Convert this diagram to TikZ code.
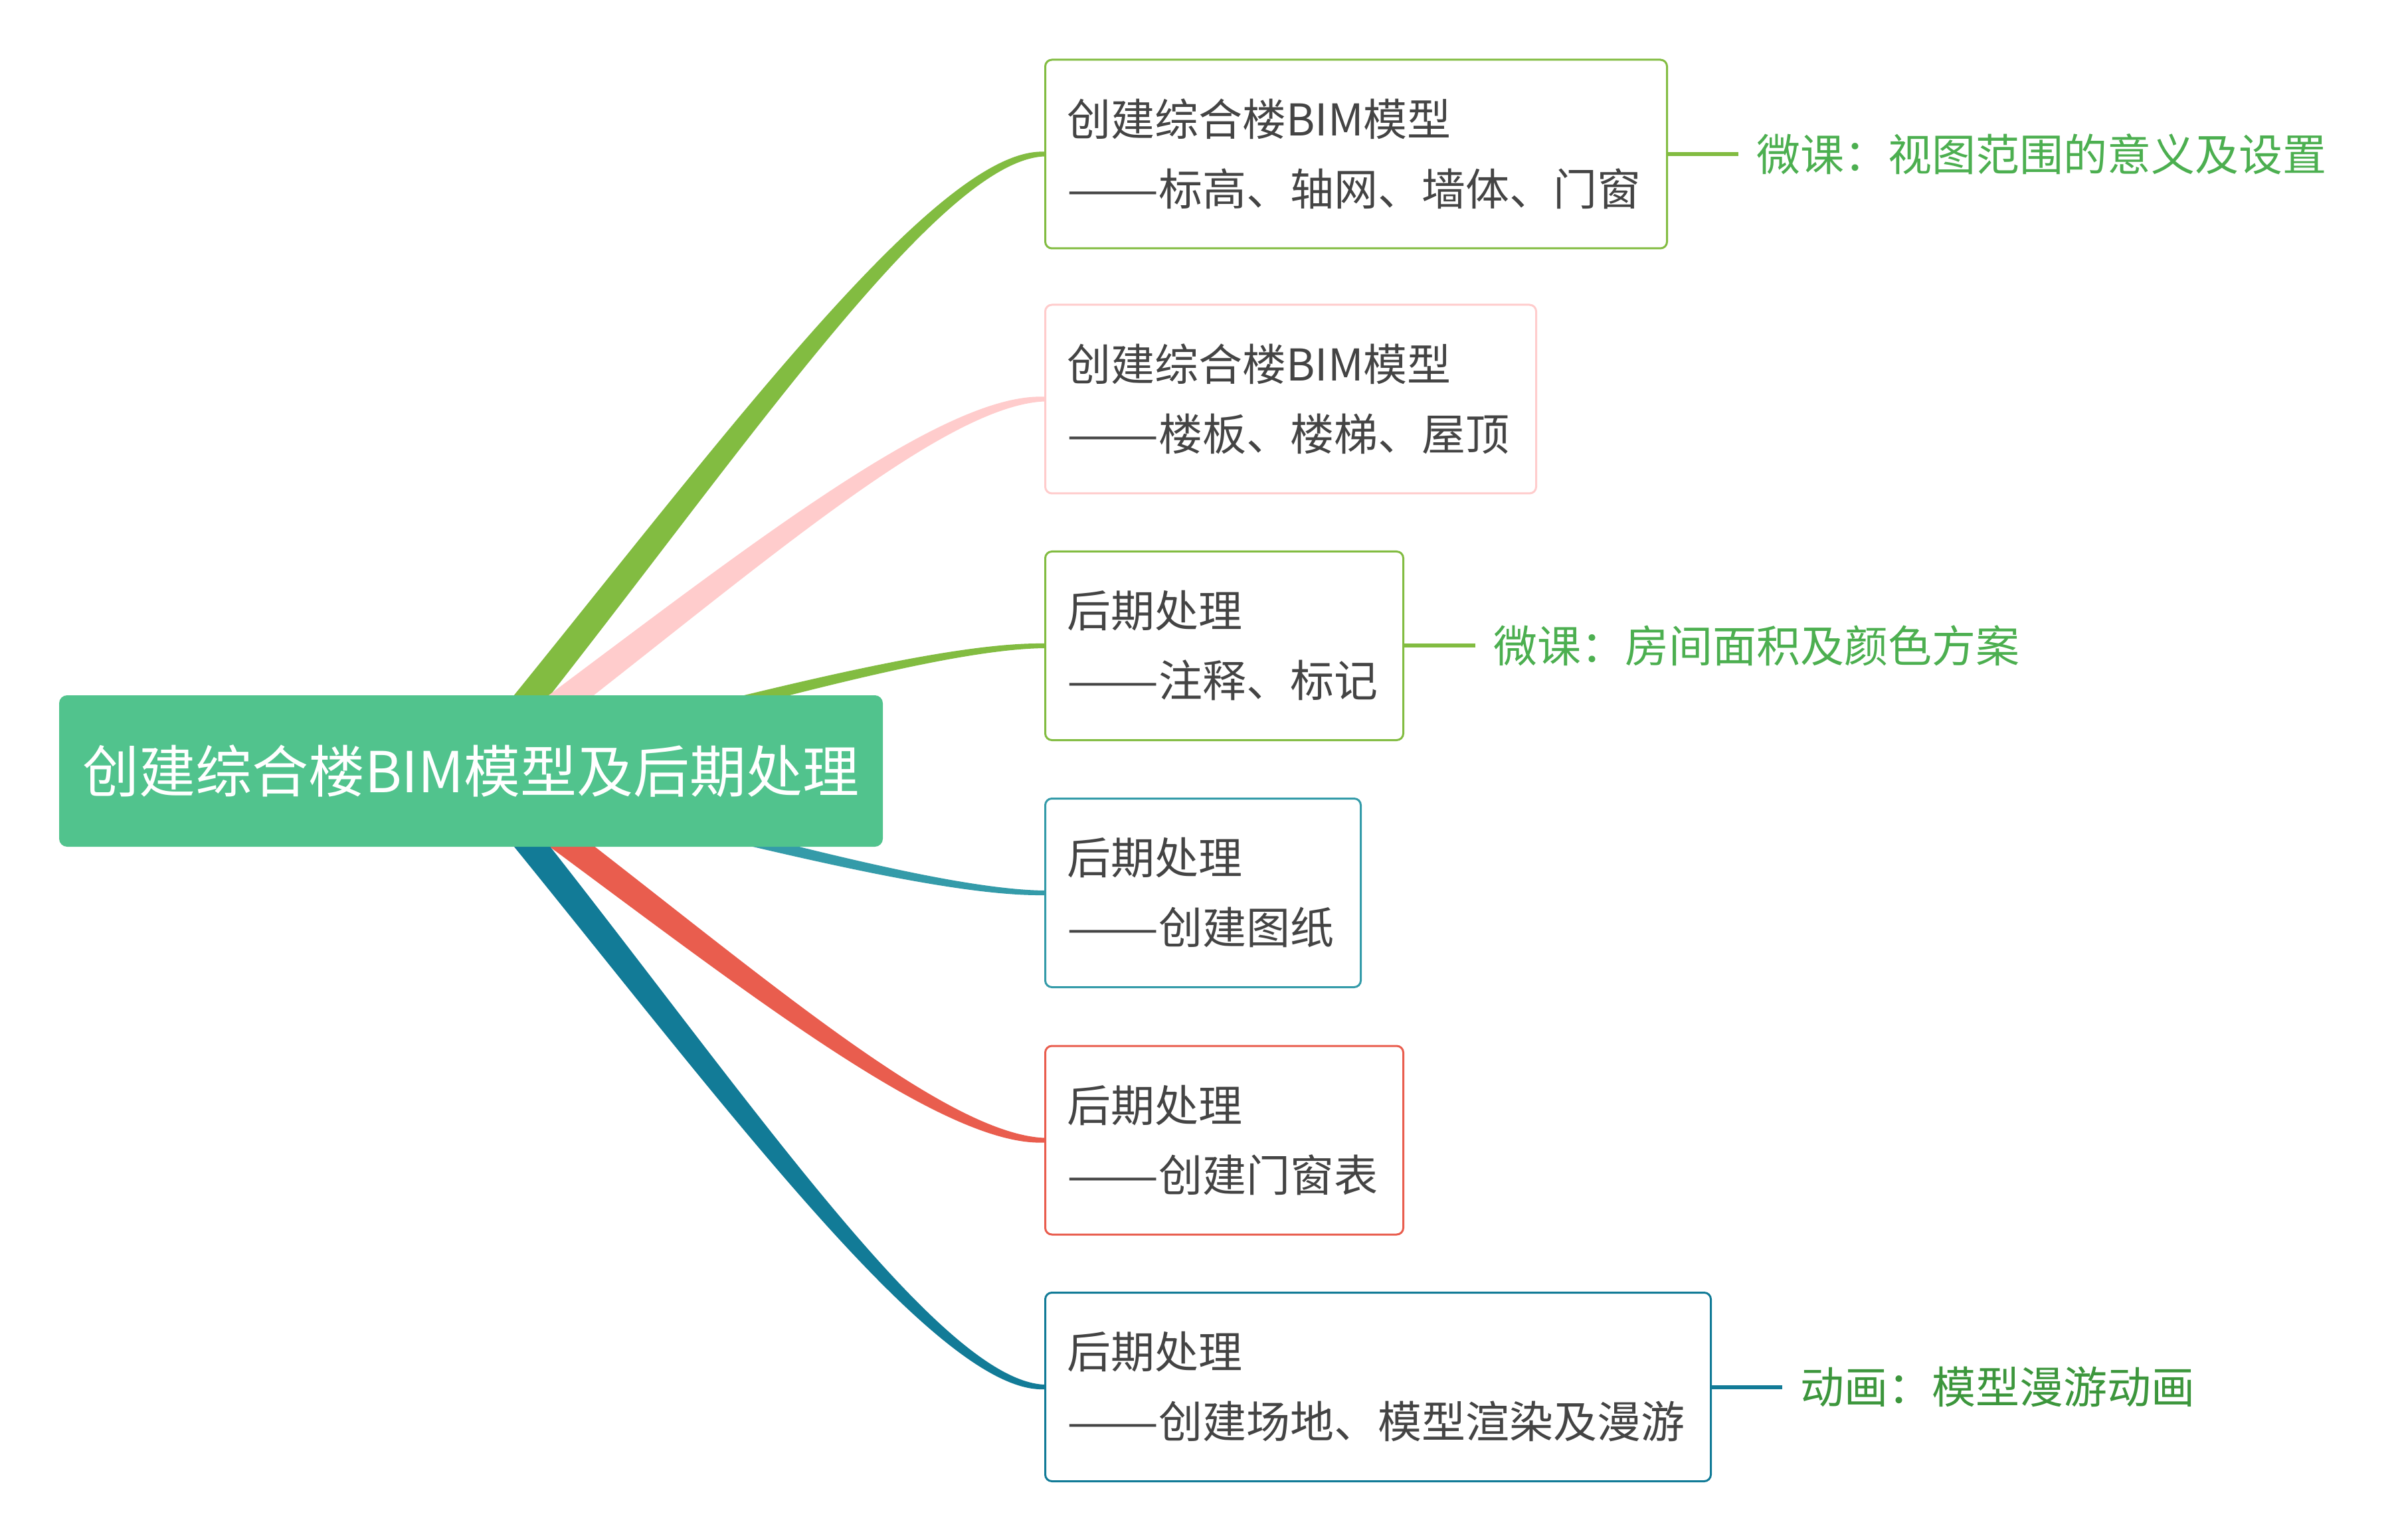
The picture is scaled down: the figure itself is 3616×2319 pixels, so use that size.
\documentclass[tikz,border=0pt]{standalone}
\usepackage{fontspec}
\usepackage{graphicx}
\setmainfont{Noto Sans CJK SC}
\usetikzlibrary{calc}
\definecolor{cgreen}{HTML}{82BC41}
\definecolor{cpink}{HTML}{FFCCCC}
\definecolor{cteal}{HTML}{349BA9}
\definecolor{cred}{HTML}{E95D4E}
\definecolor{cdteal}{HTML}{127B97}
\definecolor{croot}{HTML}{51C38D}
\definecolor{ctxt}{HTML}{444444}
\definecolor{lgreen}{HTML}{4CAF50}
\definecolor{dgreen}{HTML}{3C963C}
\pgfdeclarelayer{bg}
\pgfdeclarelayer{branches}
\pgfsetlayers{bg,branches,main}
% #1 colour, #2 box, #3 vertical control offset, #4..#7 half widths at start, c1, c2, end
\newcommand\mmbranch[7]{%
  \path (root.center) coordinate (s) ++(350,#3) coordinate (c1);
  \path (#2.west) coordinate (e) ++(-170,0) coordinate (c2);
  \fill[#1] ($(s)!#4!90:(c1)$) .. controls ($(c1)!#5!-90:(s)$) and ($(c2)+(0pt,#6)$) .. ($(e)+(0pt,#7)$)
     -- ($(e)+(0pt,-#7)$) .. controls ($(c2)+(0pt,-#6)$) and ($(c1)!#5!90:(s)$) .. ($(s)!#4!-90:(c1)$) -- cycle;
}
\newcommand\ddash{\scalebox{1.25}[1]{——}}
\tikzset{
  subbox/.style={draw=#1, line width=0.75pt, rounded corners=2.5pt, fill=white, anchor=west,
    inner xsep=8.25pt, inner ysep=0pt, minimum height=71pt, align=left, text=ctxt,
    font={\fontsize{16.5pt}{26.25pt}\selectfont}},
  rootbox/.style={fill=croot, rounded corners=3pt, minimum width=310pt, minimum height=57pt,
    inner sep=0pt, text=white, font={\fontsize{21.25pt}{26pt}\selectfont}},
  lbl/.style={anchor=west, inner xsep=6.75pt, inner ysep=0pt, font={\fontsize{16.5pt}{20pt}\selectfont}},
  sidelink/.style={line width=1.5pt, draw=#1}
}
\begin{document}
\begin{tikzpicture}[x=0.25pt, y=-0.25pt]
\begin{pgfonlayer}{bg}
\fill[white] (0,0) rectangle (3616,2319);
\end{pgfonlayer}
\useasboundingbox (0,0) rectangle (3616,2319);

\node[rootbox] (root) at (709,1161) {创建综合楼BIM模型及后期处理};

\node[subbox=cgreen, text width=217.5pt] (b1) at (1572,232) {创建综合楼BIM模型\\\ddash 标高、轴网、墙体、门窗};
\node[subbox=cpink, text width=168.25pt] (b2) at (1572,601) {创建综合楼BIM模型\\\ddash 楼板、楼梯、屋顶};
\node[subbox=cgreen, text width=118.25pt] (b3) at (1572,972.5) {后期处理\\\ddash 注释、标记};
\node[subbox=cteal, text width=102.25pt] (b4) at (1572,1344.5) {后期处理\\\ddash 创建图纸};
\node[subbox=cred, text width=118.25pt] (b5) at (1572,1717) {后期处理\\\ddash 创建门窗表};
\node[subbox=cdteal, text width=234pt] (b6) at (1572,2088.5) {后期处理\\\ddash 创建场地、模型渲染及漫游};

\node[lbl, text=lgreen] (l1) at (2617,232) {微课：视图范围的意义及设置};
\node[lbl, text=lgreen] (l3) at (2221,972.5) {微课：房间面积及颜色方案};
\node[lbl, text=dgreen] (l6) at (2683,2088.5) {动画：模型漫游动画};

\draw[sidelink=cgreen] (b1.east) -- (l1.west);
\draw[sidelink=cgreen] (b3.east) -- (l3.west);
\draw[sidelink=cdteal] (b6.east) -- (l6.west);

\begin{pgfonlayer}{branches}
\mmbranch{cgreen}{b1}{-427}{5.5pt}{5pt}{2.75pt}{0.875pt}
\mmbranch{cpink}{b2}{-258}{5.5pt}{5pt}{2.75pt}{0.875pt}
\mmbranch{cgreen}{b3}{-87}{2.75pt}{2.5pt}{1.5pt}{0.875pt}
\mmbranch{cteal}{b4}{84}{2.75pt}{2.5pt}{1.5pt}{0.875pt}
\mmbranch{cred}{b5}{255}{5.5pt}{5pt}{2.75pt}{0.875pt}
\mmbranch{cdteal}{b6}{426}{5.5pt}{5pt}{2.75pt}{0.875pt}
\end{pgfonlayer}
\end{tikzpicture}
\end{document}
